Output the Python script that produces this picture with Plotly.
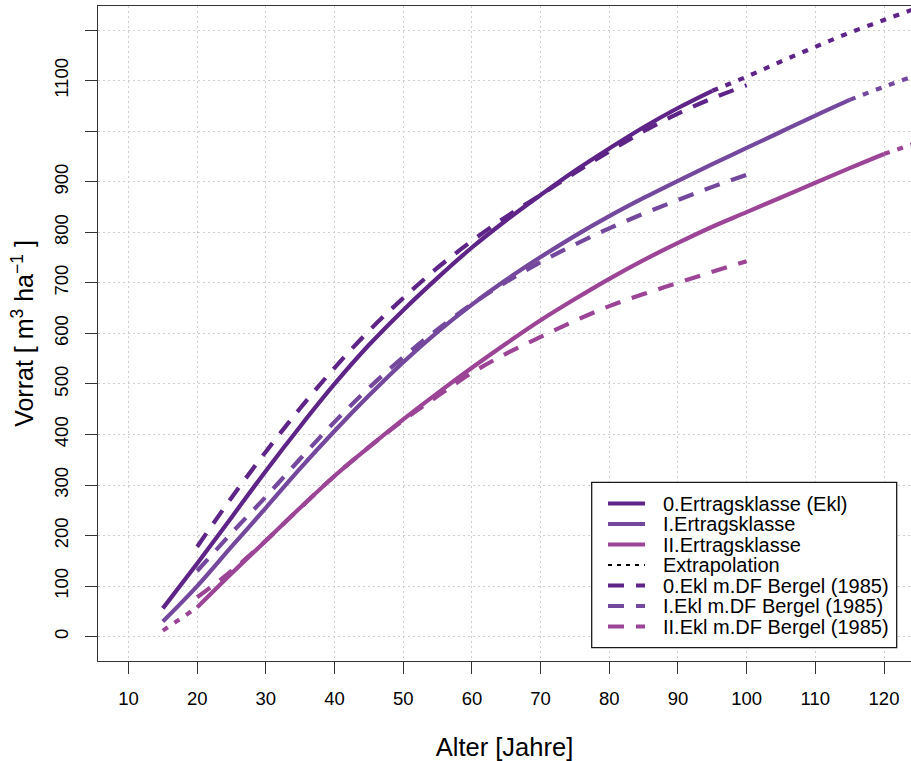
import plotly.graph_objects as go

# ---------------- data ----------------
age_0 = [15, 20, 25, 30, 35, 40, 45, 50, 55, 60, 65, 70, 75, 80, 85, 90, 95]
vol_0 = [56, 145, 236, 328, 416, 500, 577, 646, 710, 770, 824, 874, 922, 966, 1008, 1046, 1080]
age_0_ext = [95, 100, 105, 110, 115, 120, 125]
vol_0_ext = [1080, 1108, 1138, 1167, 1195, 1220, 1245]

age_1 = [15, 20, 25, 30, 35, 40, 45, 50, 55, 60, 65, 70, 75, 80, 85, 90, 95, 100, 105, 110, 115]
vol_1 = [30, 100, 178, 255, 333, 407, 477, 543, 603, 657, 706, 751, 793, 832, 868, 902, 935, 967, 999, 1031, 1062]
age_1_ext = [115, 120, 125]
vol_1_ext = [1062, 1088, 1112]

age_2 = [20, 25, 30, 35, 40, 45, 50, 55, 60, 65, 70, 75, 80, 85, 90, 95, 100, 105, 110, 115, 120]
vol_2 = [58, 125, 190, 255, 318, 375, 430, 482, 532, 580, 626, 668, 708, 745, 779, 811, 840, 869, 898, 927, 955]
age_2_ext_lo = [15, 20]
vol_2_ext_lo = [12, 58]
age_2_ext_hi = [120, 125]
vol_2_ext_hi = [955, 978]

age_bergel = [20, 25, 30, 35, 40, 45, 50, 55, 60, 65, 70, 75, 80, 85, 90, 95, 100]
vol_bergel_0 = [178, 275, 366, 452, 532, 605, 670, 730, 783, 831, 874, 918, 960, 1000, 1035, 1065, 1091]
vol_bergel_1 = [130, 205, 277, 352, 425, 492, 553, 608, 658, 702, 741, 776, 808, 837, 864, 890, 914]
vol_bergel_2 = [78, 130, 190, 255, 318, 375, 428, 476, 522, 560, 593, 625, 654, 678, 700, 722, 743]

x_ticks = [10, 20, 30, 40, 50, 60, 70, 80, 90, 100, 110, 120]
y_ticks = [0, 100, 200, 300, 400, 500, 600, 700, 800, 900, 1000, 1100, 1200]
y_tick_text = ["0", "100", "200", "300", "400", "500", "600", "700", "800", "900", "", "1100", ""]

legend_labels = ["0.Ertragsklasse (Ekl)", "I.Ertragsklasse", "II.Ertragsklasse", "Extrapolation",
                 "0.Ekl m.DF Bergel (1985)", "I.Ekl m.DF Bergel (1985)", "II.Ekl m.DF Bergel (1985)"]

# ---------------- style ----------------
C0 = "#5E2487"
C1 = "#74489D"
C2 = "#9C4596"
LW = 4.2
DASH = "16px,12px"
DOT = "6px,8px"
FONT = "Liberation Sans, Arial, sans-serif"

W, H = 911, 761
ML, MR, MT, MB = 98, 0, 6, 100

fig = go.Figure()

def add(x, y, color, dash):
    fig.add_trace(go.Scatter(x=x, y=y, mode="lines", showlegend=False, hoverinfo="skip",
                             line=dict(color=color, width=LW, dash=dash, shape="spline", smoothing=1.0)))

add(age_bergel, vol_bergel_2, C2, DASH)
add(age_bergel, vol_bergel_1, C1, DASH)
add(age_bergel, vol_bergel_0, C0, DASH)
add(age_2_ext_lo, vol_2_ext_lo, C2, DOT)
add(age_2_ext_hi, vol_2_ext_hi, C2, DOT)
add(age_1_ext, vol_1_ext, C1, DOT)
add(age_0_ext, vol_0_ext, C0, DOT)
add(age_2, vol_2, C2, "solid")
add(age_1, vol_1, C1, "solid")
add(age_0, vol_0, C0, "solid")

# ---------------- manual legend (pixel layout -> paper coords) ----------------
PW = W - ML - MR
PH = H - MT - MB
def px(xp):
    return (xp - ML) / PW
def py(yp):
    return (H - MB - yp) / PH

shapes = []
shapes.append(dict(type="rect", xref="paper", yref="paper",
                   x0=px(591.7), x1=px(896.7), y0=py(647.7), y1=py(482.3),
                   line=dict(color="#1a1a1a", width=1.3), fillcolor="white", layer="above"))
annotations = []
leg_styles = [(C0, "solid", LW), (C1, "solid", LW), (C2, "solid", LW), ("#000000", "4px,5px", 2.2),
              (C0, DASH, LW), (C1, DASH, LW), (C2, DASH, LW)]
y0 = 503.5
for i, (lab, (col, dsh, lw)) in enumerate(zip(legend_labels, leg_styles)):
    yy = y0 + i * 20.5
    shapes.append(dict(type="line", xref="paper", yref="paper",
                       x0=px(608), x1=px(645), y0=py(yy), y1=py(yy),
                       line=dict(color=col, width=lw, dash=dsh), layer="above"))
    annotations.append(dict(xref="paper", yref="paper", x=px(661), y=py(yy), text=lab,
                            showarrow=False, xanchor="left", yanchor="middle",
                            font=dict(family=FONT, size=20, color="#000000")))

fig.update_layout(
    width=W, height=H,
    margin=dict(l=ML, r=MR, t=MT, b=MB, autoexpand=False),
    paper_bgcolor="white", plot_bgcolor="white",
    font=dict(family=FONT, color="#000000"),
    shapes=shapes, annotations=annotations,
    showlegend=False,
)
fig.update_xaxes(
    range=[5.56, 123.93], tickvals=x_ticks, ticktext=[str(v) for v in x_ticks],
    showline=True, mirror=True, linecolor="#333333", linewidth=1.3,
    ticks="outside", ticklen=12, tickwidth=1.3, tickcolor="#333333",
    tickfont=dict(family=FONT, size=18.5, color="#000000"),
    showgrid=True, gridcolor="#cfcfcf", gridwidth=1, griddash="2px,3px",
    zeroline=False, ticklabelstandoff=9,
    title=dict(text="Alter [Jahre]", font=dict(family=FONT, size=25.5, color="#000000"), standoff=33),
)
fig.update_yaxes(
    range=[-48.1, 1247.8], tickvals=y_ticks, ticktext=y_tick_text, tickangle=-90,
    showline=True, mirror=True, linecolor="#333333", linewidth=1.3,
    ticks="outside", ticklen=12, tickwidth=1.3, tickcolor="#333333",
    tickfont=dict(family=FONT, size=18.5, color="#000000"),
    showgrid=True, gridcolor="#cfcfcf", gridwidth=1, griddash="2px,3px",
    zeroline=False, ticklabelstandoff=9,
    title=dict(text="Vorrat [ m<sup>3</sup> ha<sup>\u22121</sup> ]",
               font=dict(family=FONT, size=25, color="#000000"), standoff=10),
)

fig.write_html("out.html", config={"displayModeBar": False},
               post_script="document.body.style.margin='0';document.body.style.overflow='hidden';")
